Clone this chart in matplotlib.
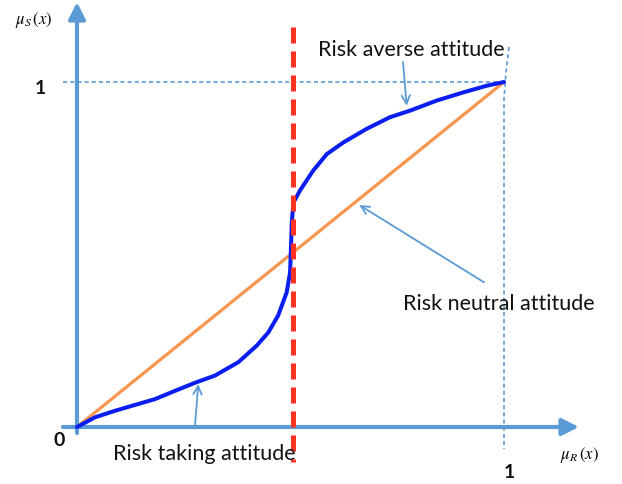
import matplotlib
matplotlib.use("Agg")
import matplotlib.pyplot as plt
import numpy as np

# ---- data ----
risk_x = [0.0, 0.042, 0.089, 0.136, 0.183, 0.230, 0.276, 0.323, 0.378, 0.421,
          0.448, 0.471, 0.491, 0.499, 0.501, 0.503, 0.507, 0.522, 0.553, 0.585,
          0.624, 0.678, 0.733, 0.780, 0.842, 0.905, 0.959, 1.0]
risk_y = [0.0, 0.028, 0.047, 0.064, 0.081, 0.105, 0.128, 0.149, 0.188, 0.236,
          0.274, 0.323, 0.390, 0.448, 0.516, 0.593, 0.651, 0.685, 0.743, 0.791,
          0.825, 0.864, 0.898, 0.917, 0.946, 0.970, 0.989, 1.0]
neutral_x = [0.0, 1.0]
neutral_y = [0.0, 1.0]
threshold_x = 0.505
labels = ["Risk averse attitude", "Risk neutral attitude", "Risk taking attitude"]

# ---- pixel <-> data mapping (622x485 figure) ----
W, H = 622, 485
X0, Y0 = 77.0, 428.0      # pixel of origin
SX, SY = 427.0, 345.0     # pixels per unit


def d(px, py):
    return ((px - X0) / SX, (Y0 - py) / SY)


plt.rcParams["mathtext.fontset"] = "stix"

fig = plt.figure(figsize=(W / 100, H / 100), dpi=100)
ax = fig.add_axes([0, 0, 1, 1])
ax.set_xlim(-X0 / SX, (W - X0) / SX)
ax.set_ylim((Y0 - H) / SY, Y0 / SY)
ax.axis("off")

axis_col = "#5B9BD5"
font = "Lato"

# reference dashed lines at 1
ax.plot([d(63, 0)[0], 1.0], [1.0, 1.0], color=axis_col, lw=1.2,
        linestyle=(0, (2.5, 1.8)), zorder=1)
vx = [d(509, 48)[0], 1.004, 1.0, 1.0]
vy = [d(509, 48)[1], 1.02, 0.95, d(0, 450)[1]]
ax.plot(vx, vy, color=axis_col, lw=1.2, linestyle=(0, (2.5, 1.8)), zorder=1)

# axes arrows
head = "-|>,head_length=1.0,head_width=0.5"
ax.annotate("", xy=d(579, 428), xytext=d(63, 428),
            arrowprops=dict(arrowstyle=head, color=axis_col, lw=3,
                            shrinkA=0, shrinkB=0), zorder=2)
ax.annotate("", xy=d(77, 3), xytext=d(77, 434),
            arrowprops=dict(arrowstyle=head, color=axis_col, lw=3,
                            shrinkA=0, shrinkB=0), zorder=2)

# curves
ax.plot(neutral_x, neutral_y, color="#F9954E", lw=2.3, zorder=3,
        solid_capstyle="butt")
ax.plot(risk_x, risk_y, color="#0A1EF0", lw=2.9, zorder=4,
        solid_joinstyle="round", solid_capstyle="round")
ax.plot([threshold_x, threshold_x], [d(0, 28)[1], d(0, 463)[1]],
        color="#FF3322", lw=3.6, dashes=(3.2, 1.6), zorder=5)

# annotations
arrow_kw = dict(arrowstyle="->,head_length=0.6,head_width=0.3",
                color=axis_col, lw=1.3, shrinkA=0, shrinkB=0)
ax.annotate("", xy=d(406.7, 106.7), xytext=d(403, 63), arrowprops=arrow_kw, zorder=6)
ax.annotate("", xy=d(359.3, 206), xytext=d(484, 283.3), arrowprops=arrow_kw, zorder=6)
ax.annotate("", xy=d(198.3, 385), xytext=d(195, 426.7), arrowprops=arrow_kw, zorder=6)

tkw = dict(fontsize=15.5, family=font, ha="center", va="center",
           color="#111111", zorder=7)
ax.text(*d(411, 50), labels[0], **tkw)
ax.text(*d(499, 304), labels[1], **tkw)
ax.text(*d(204, 454), labels[2], **tkw)

# tick-like labels
nkw = dict(fontsize=14, fontweight="bold", family=font, ha="center",
           va="center", color="#111111")
ax.text(*d(40, 89), "1", **nkw)
ax.text(*d(59, 441), "0", **nkw)
ax.text(*d(509, 473), "1", **nkw)

ax.text(*d(34, 20), r"$\mu_S\,(x)$", fontsize=12, ha="center", va="center")
ax.text(*d(579, 455), r"$\mu_R\,(x)$", fontsize=12, ha="center", va="center")

fig.savefig("out.png", dpi=100)
